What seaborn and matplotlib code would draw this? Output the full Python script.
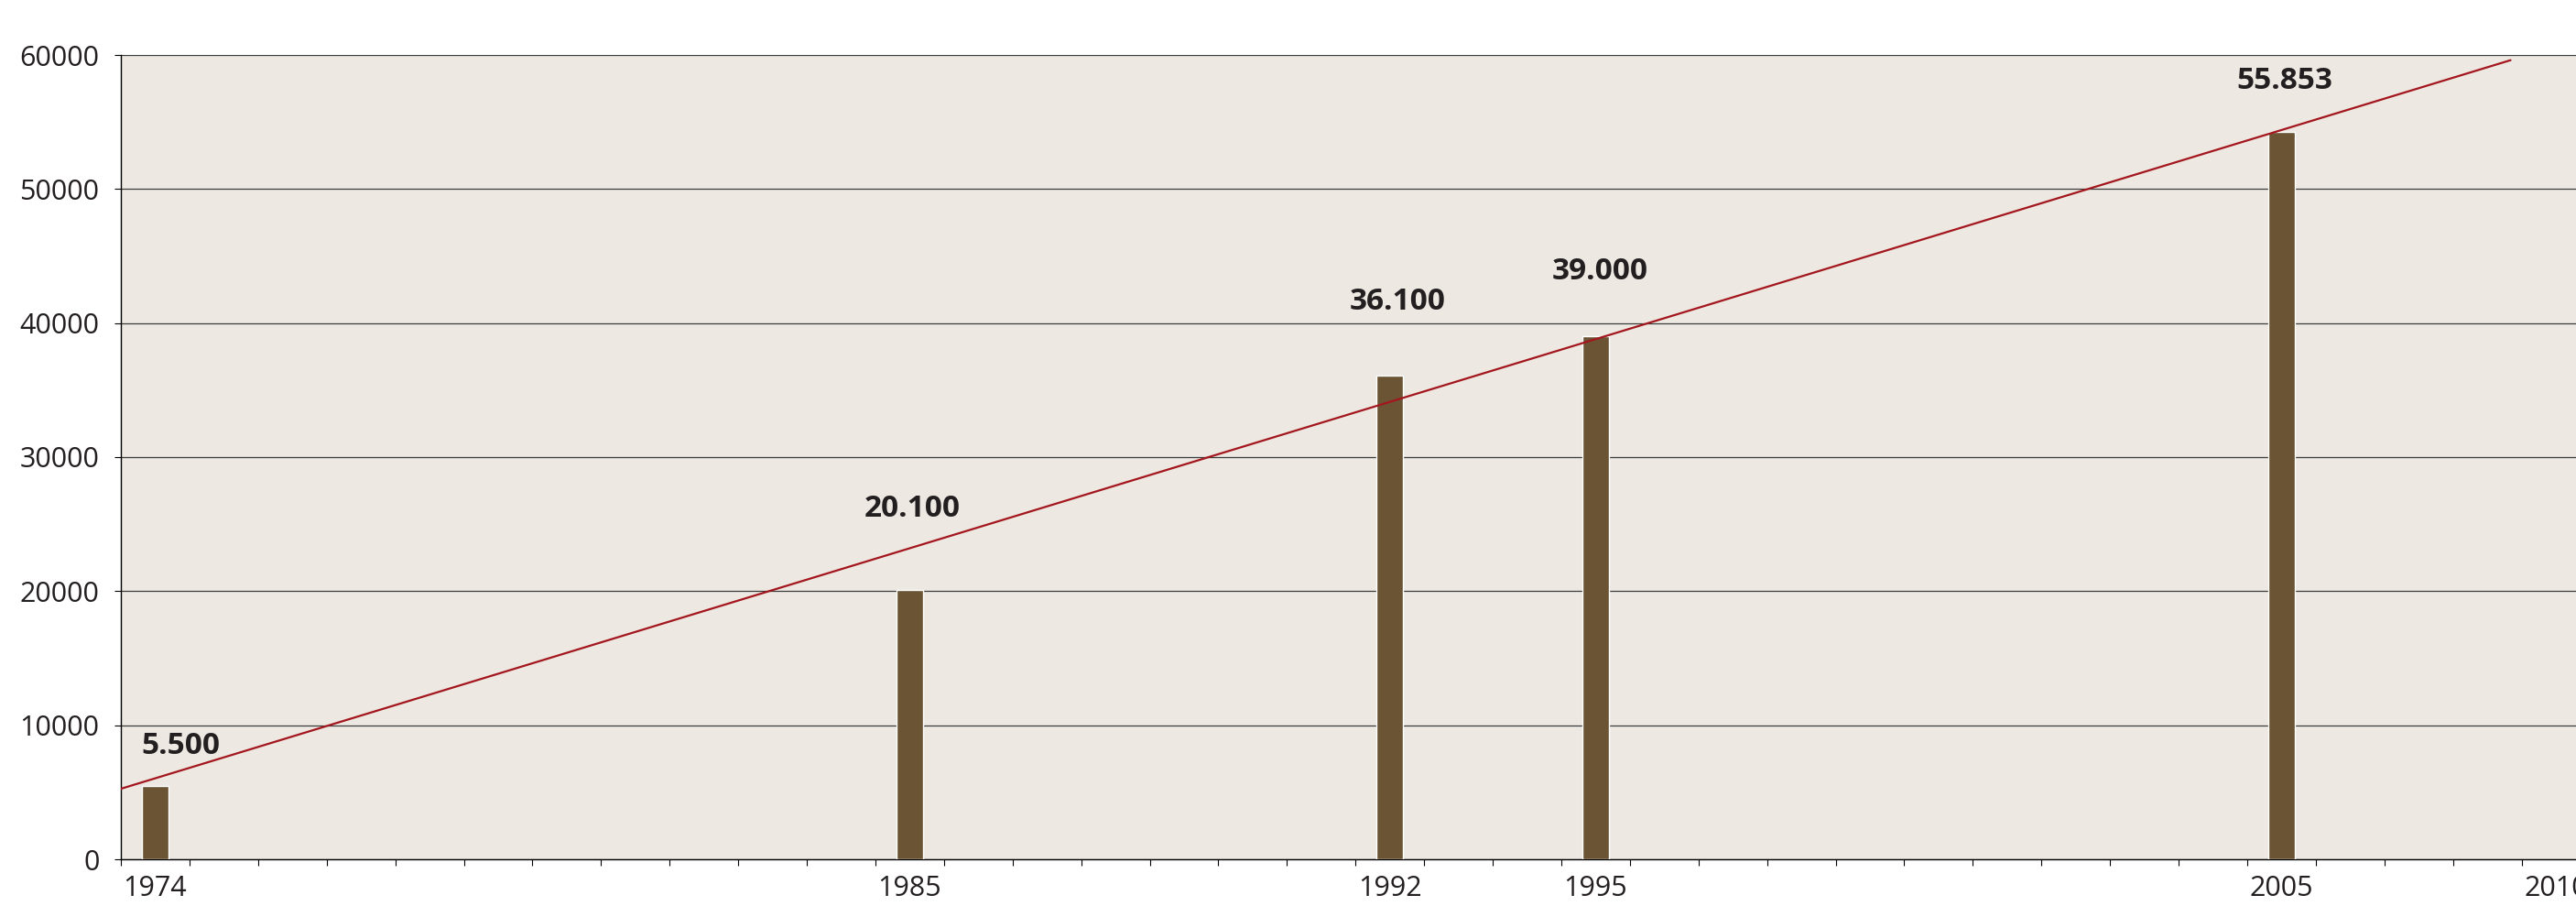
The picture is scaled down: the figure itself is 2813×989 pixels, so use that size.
import numpy as np
import pandas as pd
import matplotlib
matplotlib.use("Agg")
import matplotlib.pyplot as plt
from matplotlib.ticker import FixedLocator, MultipleLocator
import seaborn as sns

# bar data (heights as drawn in the source chart)
years = [1974, 1985, 1992, 1995, 2005]
values = [5500, 20100, 36100, 39000, 54250]
value_labels = ["5.500", "20.100", "36.100", "39.000", "55.853"]

# trend line drawn across the chart
trend_x = [1973.5, 2008.34]
trend_y = [5260, 59610]

# axis labels (the source puts "2010" in the last year slot)
tick_labels = ["1974", "1985", "1992", "1995", "2005", "2010"]
tick_pos = [1974, 1985, 1992, 1995, 2005, 2009]
y_ticks = [0, 10000, 20000, 30000, 40000, 50000, 60000]

# where the value labels sit (data coords)
label_x = [1974.37, 1985.04, 1992.11, 1995.06, 2005.04]
label_y = [8470, 26170, 41550, 43840, 58020]

BG = "#ede8e2"
BAR = "#6b5434"
LINE = "#a3161d"
TXT = "#231f20"

sns.set_theme(style="white")
plt.rcParams["font.family"] = ["Open Sans", "DejaVu Sans"]

fig = plt.figure(figsize=(28.13, 9.89), dpi=100)
ax = fig.add_axes([132 / 2813, 51 / 989, 37 * 74.9 / 2813, 878 / 989])
ax.set_facecolor(BG)

df = pd.DataFrame({"year": years, "value": values})
sns.barplot(data=df, x="year", y="value", native_scale=True, width=0.13,
            color=BAR, saturation=1, ax=ax, zorder=3)
sns.lineplot(x=trend_x, y=trend_y, color=LINE, linewidth=1.6, ax=ax, zorder=4)

for x, y, t in zip(label_x, label_y, value_labels):
    ax.text(x, y, t, ha="center", va="center", fontsize=24, fontweight="bold",
            color=TXT, zorder=5)

ax.set_xlim(1973.5, 2010.5)
ax.set_ylim(0, 60000)

ax.yaxis.set_major_locator(FixedLocator(y_ticks))
ax.set_yticklabels([str(v) for v in y_ticks])
ax.grid(axis="y", color="#3c3c3c", linewidth=0.9)
ax.set_axisbelow(True)

ax.xaxis.set_major_locator(FixedLocator(tick_pos))
ax.set_xticklabels(tick_labels)
ax.xaxis.set_minor_locator(MultipleLocator(1, offset=0.5))

ax.tick_params(axis="y", which="major", direction="out", length=5, width=0.8,
               color="black", pad=12, labelsize=22, labelcolor=TXT, left=True)
ax.tick_params(axis="x", which="major", length=0, pad=12, labelsize=22,
               labelcolor=TXT, bottom=True)
ax.tick_params(axis="x", which="minor", direction="out", length=5, width=0.8,
               color="black", bottom=True)

for side in ["top", "right"]:
    ax.spines[side].set_visible(False)
for side in ["left", "bottom"]:
    ax.spines[side].set_color("black")
    ax.spines[side].set_linewidth(1.0)

ax.set_xlabel("")
ax.set_ylabel("")

fig.savefig("out.png", dpi=100, facecolor="white")
